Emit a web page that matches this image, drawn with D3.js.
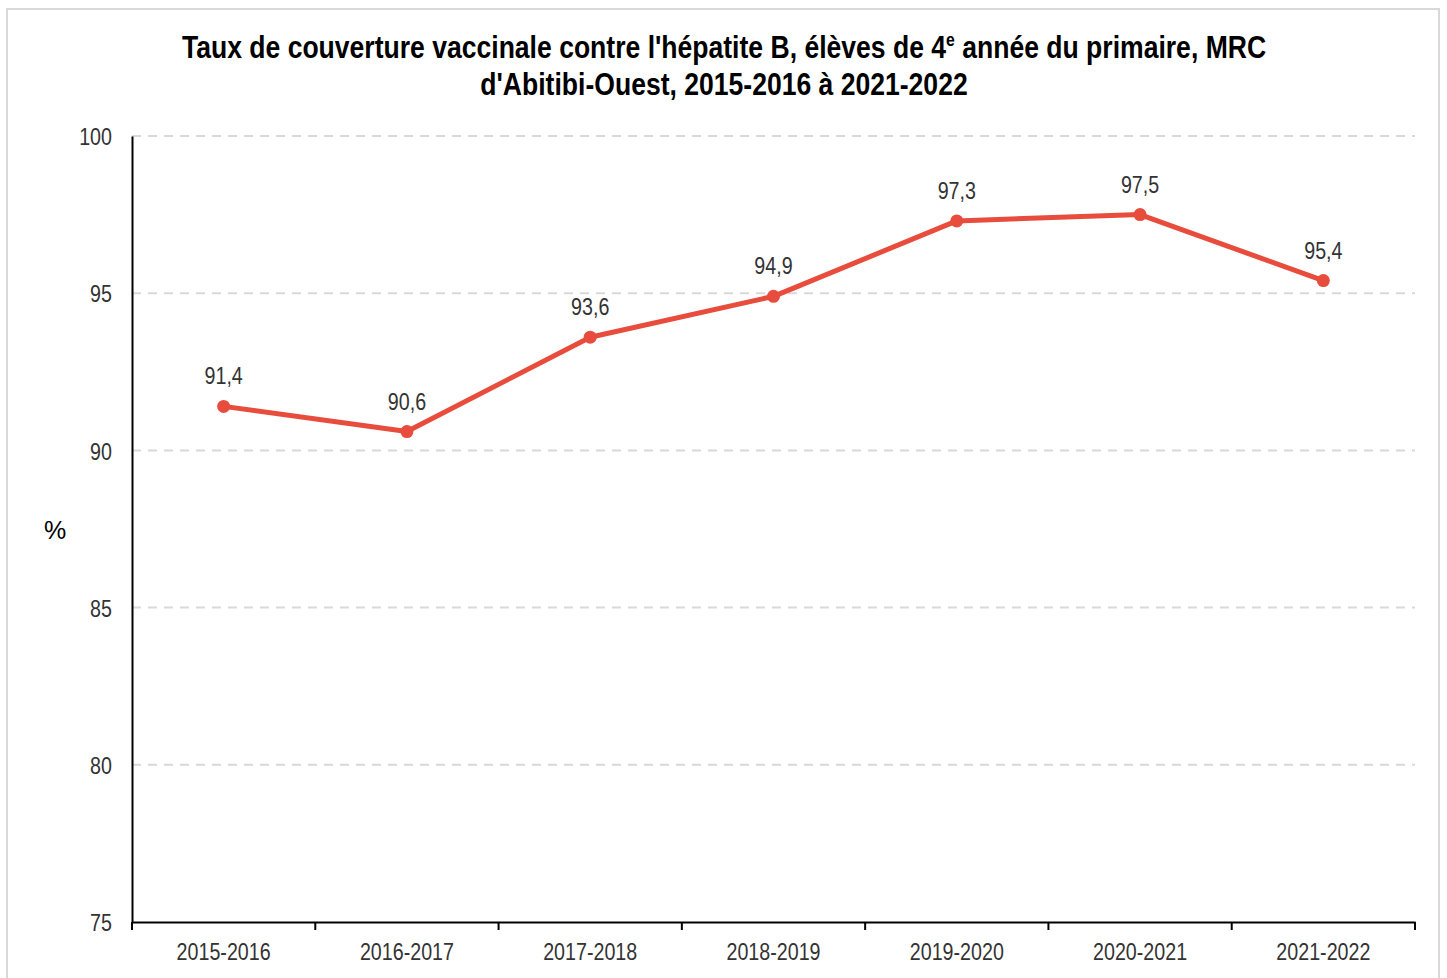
<!DOCTYPE html>
<html>
<head>
<meta charset="utf-8">
<script src="https://cdn.jsdelivr.net/npm/d3@7"></script>
<style>
  body { margin: 0; background: #fff; }
  text { font-family: "Liberation Sans", Arial, sans-serif; }
</style>
</head>
<body>
<div id="chart"></div>
<script>
var years = ["2015-2016", "2016-2017", "2017-2018", "2018-2019", "2019-2020", "2020-2021", "2021-2022"];
var taux = [91.4, 90.6, 93.6, 94.9, 97.3, 97.5, 95.4];
var yTicks = [75, 80, 85, 90, 95, 100];

var W = 1447, H = 978;
var m = {left: 132, right: 32, top: 136, bottom: 56};
var narrow = 0.82; // Arial Narrow ~ Arial squeezed horizontally

var svg = d3.select("#chart").append("svg")
    .attr("width", W)
    .attr("height", H);

// frame
svg.append("rect")
    .attr("x", 7).attr("y", 9)
    .attr("width", W - 15).attr("height", H + 20)
    .attr("fill", "#fff")
    .attr("stroke", "#d9d9d9")
    .attr("stroke-width", 2);

var x = d3.scaleBand().domain(years).range([m.left, W - m.right]);
var y = d3.scaleLinear().domain([75, 100]).range([H - m.bottom, m.top]);

// title
var title = svg.append("g")
    .attr("transform", "translate(724,0) scale(0.83,1)")
  .append("text")
    .attr("text-anchor", "middle")
    .attr("font-weight", "bold")
    .attr("font-size", 32)
    .attr("fill", "#000");
title.append("tspan").attr("x", 0).attr("y", 58)
    .text("Taux de couverture vaccinale contre l'hépatite B, élèves de 4");
title.append("tspan").attr("font-size", 19).attr("dy", -12).text("e");
title.append("tspan").attr("dy", 12).text(" année du primaire, MRC");
title.append("tspan").attr("x", 0).attr("y", 95)
    .text("d'Abitibi-Ouest, 2015-2016 à 2021-2022");

// grid
svg.append("g")
  .selectAll("line")
  .data(yTicks.filter(function(d){ return d > 75; }))
  .enter().append("line")
    .attr("x1", m.left).attr("x2", W - m.right)
    .attr("y1", function(d){ return y(d); })
    .attr("y2", function(d){ return y(d); })
    .attr("stroke", "#d9d9d9")
    .attr("stroke-width", 2)
    .attr("stroke-dasharray", "9,7");

// y axis
var yAxis = svg.append("g")
    .attr("transform", "translate(" + m.left + ",0)")
    .call(d3.axisLeft(y).tickValues(yTicks).tickSize(0));
yAxis.attr("font-family", null);
yAxis.select(".domain").attr("stroke", "#000").attr("stroke-width", 2);
yAxis.selectAll("text")
    .attr("font-size", 24).attr("fill", "#333")
    .attr("x", -20 / narrow)
    .attr("dy", "0.36em")
    .attr("transform", "scale(" + narrow + ",1)");

// x axis
var xAxis = svg.append("g")
    .attr("transform", "translate(0," + y(75) + ")")
    .call(d3.axisBottom(x).tickSize(0));
xAxis.attr("font-family", null);
xAxis.select(".domain").attr("stroke", "#000").attr("stroke-width", 2);
xAxis.selectAll("text")
    .attr("font-size", 24).attr("fill", "#333")
    .attr("y", 38).attr("dy", 0)
    .attr("transform", "scale(" + narrow + ",1)");
// boundary ticks
var bounds = years.map(function(d){ return x(d); }).concat([x(years[years.length - 1]) + x.bandwidth()]);
xAxis.selectAll(".bound")
  .data(bounds)
  .enter().append("line")
    .attr("x1", function(d){ return d; }).attr("x2", function(d){ return d; })
    .attr("y1", 0).attr("y2", 8)
    .attr("stroke", "#000").attr("stroke-width", 2);

// y title
svg.append("text")
    .attr("x", 55).attr("y", 539)
    .attr("text-anchor", "middle")
    .attr("font-size", 25)
    .attr("fill", "#000")
    .text("%");

var cx = function(d, i){ return x(years[i]) + x.bandwidth() / 2; };

// line
svg.append("path")
    .datum(taux)
    .attr("fill", "none")
    .attr("stroke", "#e84c3d")
    .attr("stroke-width", 5)
    .attr("stroke-linejoin", "round")
    .attr("d", d3.line().x(cx).y(function(d){ return y(d); }));

svg.selectAll(".dot")
  .data(taux)
  .enter().append("circle")
    .attr("cx", cx)
    .attr("cy", function(d){ return y(d); })
    .attr("r", 6.5)
    .attr("fill", "#e84c3d");

svg.selectAll(".lbl")
  .data(taux)
  .enter().append("g")
    .attr("transform", function(d, i){ return "translate(" + cx(d, i) + "," + (y(d) - 22) + ") scale(" + narrow + ",1)"; })
  .append("text")
    .attr("text-anchor", "middle")
    .attr("font-size", 24)
    .attr("fill", "#333")
    .text(function(d){ return d.toFixed(1).replace(".", ","); });
</script>
</body>
</html>
